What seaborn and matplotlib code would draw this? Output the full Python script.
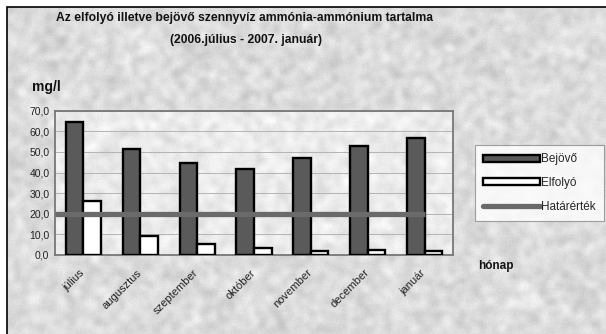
import numpy as np
import pandas as pd
import matplotlib
matplotlib.use("Agg")
import matplotlib.pyplot as plt
import matplotlib.transforms as mtransforms
from matplotlib.patches import Rectangle, Patch
from matplotlib.lines import Line2D
import seaborn as sns

months = ["július", "augusztus", "szeptember", "október", "november", "december", "január"]
bejovo = [64.4, 51.5, 44.6, 41.5, 47.2, 53.0, 56.9]
elfolyo = [26.2, 9.3, 5.2, 3.4, 2.0, 2.5, 2.0]
hatarertek = [20.0, 20.0, 20.0, 20.0, 20.0, 20.0, 20.0]
y_ticks = [0, 10, 20, 30, 40, 50, 60, 70]

sns.set_theme(style="white")
plt.rcParams["font.family"] = ["Liberation Sans", "DejaVu Sans"]

df = pd.DataFrame({
    "hónap": months * 2,
    "érték": bejovo + elfolyo,
    "sorozat": ["Bejövő"] * len(months) + ["Elfolyó"] * len(months),
})

W, H = 606, 334
fig = plt.figure(figsize=(W / 100, H / 100), dpi=100)
fig.patch.set_facecolor("white")


def paper(shape, seed, base, amp):
    """Grainy paper texture: smoothed noise plus fine grain."""
    rng = np.random.default_rng(seed)
    n = rng.normal(0, 1, shape)
    k = np.ones(7) / 7
    for _ in range(2):
        n = np.apply_along_axis(lambda r: np.convolve(r, k, mode="same"), 1, n)
        n = np.apply_along_axis(lambda c: np.convolve(c, k, mode="same"), 0, n)
    n = n / n.std()
    g = rng.normal(0, 1, shape)
    return np.clip(base + amp * n + 0.35 * amp * g, 0, 1)


bg = fig.add_axes([7 / W, 0, 1 - 7 / W, 1 - 7 / H], zorder=-10)
bg.imshow(paper((H - 7, W - 7), 7, 0.86, 0.025), cmap="gray", vmin=0, vmax=1,
          aspect="auto", interpolation="nearest")
bg.axis("off")
fig.add_artist(Rectangle((7 / W, -0.1), 1.2, (H - 7) / H + 0.1, transform=fig.transFigure,
                         fill=False, edgecolor="black", linewidth=1.2, zorder=-5))

ax_rect = [55 / W, 1 - 255 / H, 398 / W, 144.3 / H]
pa = fig.add_axes(ax_rect, zorder=-8)
pa.imshow(paper((145, 398), 11, 0.92, 0.02), cmap="gray", vmin=0, vmax=1,
          aspect="auto", interpolation="nearest")
pa.axis("off")

ax = fig.add_axes(ax_rect)
ax.set_facecolor("none")

sns.barplot(data=df, x="hónap", y="érték", hue="sorozat", order=months,
            palette={"Bejövő": "#5a5a5a", "Elfolyó": "white"},
            width=0.62, edgecolor="black", linewidth=1.7, ax=ax, legend=False, zorder=3)

xpos = np.arange(len(months))
ax.plot(np.r_[-0.5, xpos], np.r_[hatarertek[0], hatarertek], color="#6a6a6a",
        linewidth=3.8, solid_capstyle="butt", zorder=4)

ax.set_xlim(-0.5, len(months) - 0.5)
ax.set_ylim(0, 70)
ax.set_yticks(y_ticks)
ax.set_yticklabels([f"{v:.1f}".replace(".", ",") for v in y_ticks], fontsize=7.5, color="#222222")
ax.yaxis.grid(True, color="#b4b4b4", linewidth=0.7)
ax.set_axisbelow(True)
ax.set_xticks(xpos)
ax.set_xticklabels(months, rotation=45, ha="right", rotation_mode="anchor",
                   fontsize=8, color="#222222")
ax.tick_params(axis="y", length=0, pad=4)
ax.tick_params(axis="x", length=0, pad=9)
shift = mtransforms.ScaledTranslation(-4 / 100, 0, fig.dpi_scale_trans)
for lab in ax.get_xticklabels():
    lab.set_transform(lab.get_transform() + shift)
ax.set_xlabel("")
ax.set_ylabel("")
for s in ax.spines.values():
    s.set_color("#777777")
    s.set_linewidth(1.3)

fig.text(245 / W, 1 - 18 / H, "Az elfolyó illetve bejövő szennyvíz ammónia-ammónium tartalma",
         ha="center", va="center", fontsize=8.7, fontweight="bold", color="#111111")
fig.text(246 / W, 1 - 40 / H, "(2006.július - 2007. január)",
         ha="center", va="center", fontsize=8.7, fontweight="bold", color="#111111")
fig.text(32 / W, 1 - 87 / H, "mg/l", ha="left", va="center", fontsize=10,
         fontweight="bold", color="#111111")
fig.text(478 / W, 1 - 266 / H, "hónap", ha="left", va="center", fontsize=8.5,
         fontweight="bold", color="#111111")

handles = [
    Patch(facecolor="#5a5a5a", edgecolor="black", linewidth=1.7, label="Bejövő"),
    Patch(facecolor="white", edgecolor="black", linewidth=1.7, label="Elfolyó"),
    Line2D([0], [0], color="#6a6a6a", linewidth=3.8, label="Határérték"),
]
leg = fig.legend(handles=handles, loc="upper left", bbox_to_anchor=(475 / W, 1 - 145 / H),
                 fontsize=8.5, frameon=True, fancybox=False, handlelength=4.8,
                 handleheight=0.55, handletextpad=0.1, labelspacing=1.0,
                 borderpad=0.7, borderaxespad=0)
leg.get_frame().set_edgecolor("#8a8a8a")
leg.get_frame().set_linewidth(0.8)
leg.get_frame().set_facecolor("white")

fig.savefig("out.png", dpi=100)
